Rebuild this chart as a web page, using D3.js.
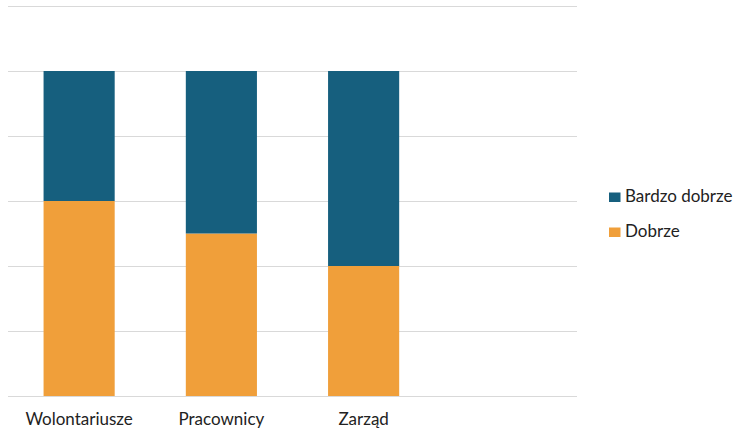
<!DOCTYPE html>
<html>
<head>
<meta charset="utf-8">
<script src="https://cdn.jsdelivr.net/npm/d3@7"></script>
<style>
  html, body { margin: 0; padding: 0; background: #fff; }
  svg { display: block; font-family: Lato, "Open Sans", sans-serif; }
</style>
</head>
<body>
<svg id="chart" width="737" height="431"></svg>
<script>
// Categories (the fourth slot is intentionally empty)
const categories = ["Wolontariusze", "Pracownicy", "Zarząd", ""];
const seriesNames = ["Dobrze", "Bardzo dobrze"];
const dobrze = [0.6, 0.5, 0.4];
const bardzoDobrze = [0.4, 0.5, 0.6];
const yTicks = [0, 0.2, 0.4, 0.6, 0.8, 1.0, 1.2];
const colors = { "Dobrze": "#F09F3A", "Bardzo dobrze": "#165F7E" };

const svg = d3.select("#chart");
const margin = { left: 8 };

const x = d3.scaleBand()
  .domain(categories.map((c, i) => i))
  .range([margin.left, 577])
  .paddingInner(0.5)
  .paddingOuter(0.25);

const y = d3.scaleLinear().domain([0, 1.2]).range([396, 6]);

// Gridlines
svg.append("g")
  .selectAll("line")
  .data(yTicks)
  .join("line")
  .attr("x1", margin.left).attr("x2", 577)
  .attr("y1", d => Math.round(y(d)) + 0.5)
  .attr("y2", d => Math.round(y(d)) + 0.5)
  .attr("stroke", "#d9d9d9")
  .attr("stroke-width", 1.2);

// Stacked data
const rows = dobrze.map((d, i) => ({ idx: i, "Dobrze": d, "Bardzo dobrze": bardzoDobrze[i] }));
const stacked = d3.stack().keys(seriesNames)(rows);

svg.append("g")
  .selectAll("g")
  .data(stacked)
  .join("g")
  .attr("fill", s => colors[s.key])
  .selectAll("rect")
  .data(s => s)
  .join("rect")
  .attr("x", d => x(d.data.idx))
  .attr("width", x.bandwidth())
  .attr("y", d => y(d[1]))
  .attr("height", d => y(d[0]) - y(d[1]));

// Category labels
svg.append("g")
  .selectAll("text")
  .data(categories.filter(c => c))
  .join("text")
  .attr("x", (d, i) => x(i) + x.bandwidth() / 2)
  .attr("y", 425)
  .attr("text-anchor", "middle")
  .attr("font-size", 17)
  .attr("fill", "#222")
  .text(d => d);

// Legend
const legendItems = ["Bardzo dobrze", "Dobrze"];
const lg = svg.append("g");
legendItems.forEach((name, i) => {
  const sy = 192.5 + i * 35;
  lg.append("rect")
    .attr("x", 609).attr("y", sy)
    .attr("width", 11.5).attr("height", 9.5)
    .attr("fill", colors[name]);
  lg.append("text")
    .attr("x", 625).attr("y", sy + 9.5)
    .attr("font-size", 17)
    .attr("fill", "#222")
    .text(name);
});
</script>
</body>
</html>
